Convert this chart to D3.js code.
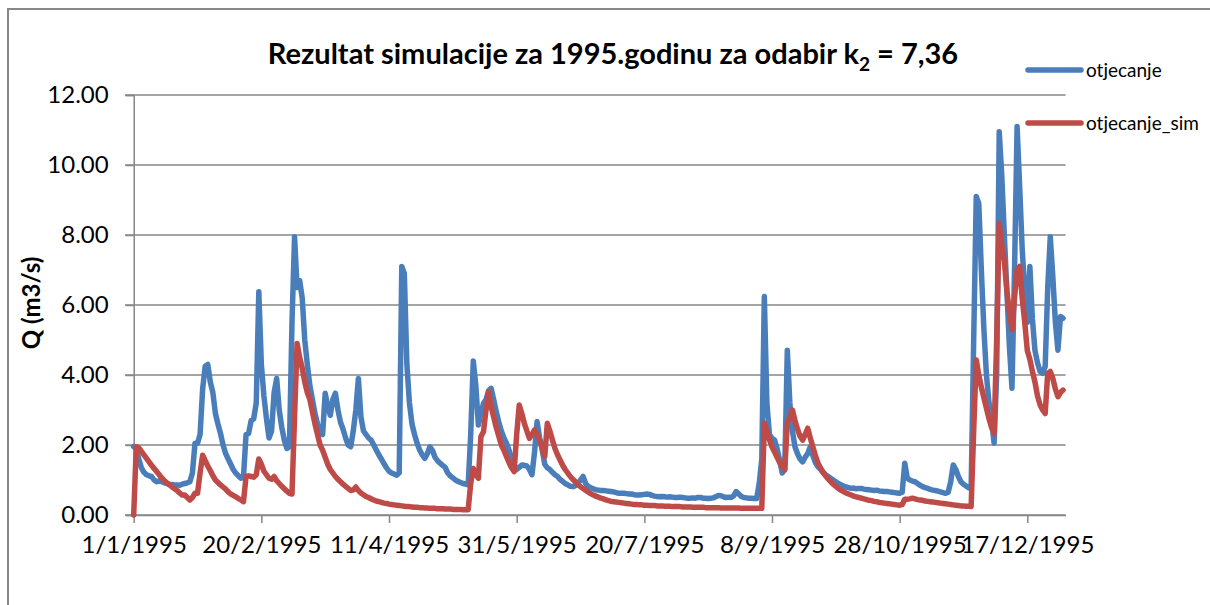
<!DOCTYPE html>
<html>
<head>
<meta charset="utf-8">
<script src="https://cdn.jsdelivr.net/npm/d3@7"></script>
<style>
  body { margin: 0; background: #fff; }
  svg { font-family: Lato, 'Open Sans', sans-serif; }
</style>
</head>
<body>
<svg id="chart" width="1210" height="605"></svg>
<script>
// daily values for 1995, index = day of year (0 = 1/1/1995)
const otjecanje = [
  1.95, 1.9, 1.6, 1.35, 1.22, 1.15, 1.12, 1.1, 1.0, 0.95,
  0.98, 0.95, 0.92, 0.9, 0.88, 0.87, 0.86, 0.86, 0.85, 0.88,
  0.9, 0.92, 0.95, 1.2, 2.05, 2.05, 2.3, 3.6, 4.25, 4.3,
  3.8, 3.5, 2.9, 2.6, 2.33, 2.0, 1.76, 1.6, 1.45, 1.3,
  1.19, 1.12, 1.05, 1.08, 2.3, 2.33, 2.7, 2.75, 3.2, 6.38,
  4.3, 3.4, 2.75, 2.2, 2.4, 3.5, 3.9, 3.0, 2.5, 2.14,
  1.9, 1.95, 5.5, 7.95, 6.5, 6.7, 6.2, 5.0, 4.3, 3.7,
  3.3, 2.9, 2.6, 2.35, 2.3, 3.48, 3.1, 2.85, 3.3, 3.48,
  3.0, 2.65, 2.45, 2.2, 2.0, 1.95, 2.4, 3.0, 3.9, 2.8,
  2.4, 2.3, 2.2, 2.14, 2.0, 1.86, 1.72, 1.6, 1.47, 1.35,
  1.25, 1.2, 1.17, 1.14, 1.2, 7.1, 6.9, 4.3, 3.2, 2.6,
  2.3, 2.05, 1.86, 1.72, 1.62, 1.75, 1.95, 1.85, 1.65, 1.55,
  1.48, 1.42, 1.36, 1.2, 1.12, 1.06, 1.0, 0.96, 0.93, 0.9,
  0.88, 0.86, 2.3, 4.4, 3.7, 2.57, 2.9, 3.19, 3.3, 3.55,
  3.62, 3.3, 2.95, 2.65, 2.4, 2.2, 2.05, 1.85, 1.62, 1.42,
  1.3, 1.36, 1.43, 1.42, 1.4, 1.3, 1.15, 1.8, 2.67, 2.2,
  1.86, 1.45, 1.35, 1.3, 1.22, 1.15, 1.1, 1.02, 0.96, 0.9,
  0.86, 0.82, 0.81, 0.84, 0.9, 1.0, 1.1, 0.9, 0.82, 0.78,
  0.75, 0.72, 0.71, 0.7, 0.7, 0.69, 0.68, 0.67, 0.66, 0.64,
  0.62, 0.62, 0.62, 0.61, 0.6, 0.6, 0.58, 0.57, 0.57, 0.58,
  0.59, 0.6, 0.59, 0.56, 0.54, 0.53, 0.52, 0.53, 0.52, 0.51,
  0.52, 0.51, 0.5, 0.5, 0.51, 0.5, 0.49, 0.48, 0.48, 0.49,
  0.48, 0.5, 0.5, 0.48, 0.48, 0.47, 0.48, 0.49, 0.52, 0.56,
  0.55, 0.52, 0.5, 0.51, 0.5, 0.55, 0.67, 0.6, 0.53, 0.5,
  0.49, 0.48, 0.48, 0.47, 0.47, 0.9, 1.6, 6.24, 3.2, 2.3,
  2.19, 2.14, 1.9, 1.57, 1.2, 1.3, 4.71, 3.2, 2.4, 1.95,
  1.75, 1.6, 1.52, 1.65, 1.76, 1.95, 1.7, 1.5, 1.38, 1.3,
  1.22, 1.15, 1.1, 1.05, 1.0, 0.95, 0.9, 0.86, 0.83, 0.8,
  0.78, 0.76, 0.77, 0.75, 0.76, 0.76, 0.74, 0.73, 0.72, 0.71,
  0.7, 0.71, 0.69, 0.68, 0.67, 0.67, 0.66, 0.65, 0.64, 0.63,
  0.62, 0.65, 1.48, 1.05, 1.0, 0.97, 0.95, 0.9, 0.85, 0.81,
  0.78, 0.76, 0.73, 0.71, 0.7, 0.68, 0.66, 0.64, 0.62, 0.65,
  0.95, 1.43, 1.3, 1.1, 0.95, 0.88, 0.83, 0.78, 0.75, 5.0,
  9.1, 8.9, 7.0, 5.3, 4.0, 3.2, 2.7, 2.05, 4.0, 10.95,
  9.7, 8.0, 6.4, 4.8, 3.62, 7.0, 11.1, 9.4, 7.6, 6.4,
  5.5, 7.1, 5.6, 4.7, 4.35, 4.1, 4.05, 4.24, 6.5, 7.95,
  6.8, 5.5, 4.71, 5.67, 5.62
]

const otjecanjeSim = [
  0, 1.95, 1.92, 1.82, 1.72, 1.62, 1.52, 1.42, 1.33, 1.24,
  1.15, 1.06, 0.98, 0.92, 0.86, 0.8, 0.75, 0.7, 0.63, 0.57,
  0.57, 0.5, 0.43, 0.5, 0.62, 0.62, 1.2, 1.71, 1.55, 1.4,
  1.27, 1.12, 1.0, 0.93, 0.86, 0.8, 0.74, 0.66, 0.6, 0.56,
  0.52, 0.47, 0.43, 0.38, 1.1, 1.12, 1.1, 1.08, 1.15, 1.6,
  1.45, 1.25, 1.15, 1.05, 1.02, 1.1, 0.98, 0.9, 0.82, 0.75,
  0.68, 0.62, 0.6, 2.8, 4.9, 4.5, 4.2, 3.8, 3.5, 3.3,
  2.95, 2.6, 2.3, 2.0, 1.85, 1.65, 1.45, 1.3, 1.2, 1.1,
  1.02, 0.95, 0.88, 0.82, 0.76, 0.7, 0.72, 0.8, 0.7, 0.63,
  0.58, 0.53, 0.5, 0.46, 0.43, 0.4, 0.38, 0.36, 0.34, 0.33,
  0.31, 0.3, 0.29, 0.28, 0.27, 0.26, 0.25, 0.24, 0.24, 0.23,
  0.22, 0.22, 0.21, 0.21, 0.2, 0.2, 0.19, 0.19, 0.19, 0.18,
  0.18, 0.18, 0.17, 0.17, 0.17, 0.16, 0.16, 0.16, 0.16, 0.15,
  0.15, 0.15, 0.9, 1.33, 1.15, 1.05, 2.24, 2.38, 3.0, 3.52,
  3.1, 2.8, 2.5, 2.25, 2.0, 1.85, 1.67, 1.5, 1.35, 1.24,
  2.3, 3.14, 2.9, 2.62, 2.4, 2.19, 2.3, 2.43, 2.3, 2.14,
  1.9, 1.67, 2.62, 2.4, 2.14, 1.9, 1.72, 1.57, 1.42, 1.3,
  1.2, 1.1, 1.02, 0.95, 0.87, 0.81, 0.76, 0.71, 0.66, 0.61,
  0.57, 0.54, 0.51, 0.48, 0.46, 0.43, 0.41, 0.39, 0.38, 0.37,
  0.36, 0.35, 0.34, 0.33, 0.32, 0.31, 0.3, 0.3, 0.29, 0.29,
  0.28, 0.28, 0.27, 0.27, 0.27, 0.26, 0.26, 0.26, 0.25, 0.25,
  0.25, 0.24, 0.24, 0.24, 0.24, 0.23, 0.23, 0.23, 0.23, 0.22,
  0.22, 0.22, 0.22, 0.22, 0.21, 0.21, 0.21, 0.21, 0.21, 0.21,
  0.2, 0.2, 0.2, 0.2, 0.2, 0.2, 0.2, 0.2, 0.19, 0.19,
  0.19, 0.19, 0.19, 0.19, 0.19, 0.19, 0.19, 2.62, 2.4, 2.15,
  1.95, 1.8, 1.65, 1.5, 1.38, 1.29, 2.62, 2.8, 3.0, 2.7,
  2.45, 2.25, 2.14, 2.3, 2.48, 2.2, 1.95, 1.7, 1.48, 1.35,
  1.22, 1.12, 1.03, 0.95, 0.88, 0.82, 0.76, 0.71, 0.67, 0.63,
  0.6, 0.57, 0.54, 0.52, 0.5, 0.48, 0.46, 0.44, 0.42, 0.41,
  0.39, 0.38, 0.36, 0.35, 0.34, 0.33, 0.32, 0.31, 0.3, 0.29,
  0.28, 0.3, 0.45, 0.45, 0.46, 0.48, 0.46, 0.44, 0.43, 0.42,
  0.4, 0.39, 0.38, 0.37, 0.36, 0.35, 0.34, 0.33, 0.32, 0.31,
  0.3, 0.29, 0.28, 0.27, 0.26, 0.26, 0.25, 0.25, 0.24, 2.4,
  4.43, 4.0, 3.65, 3.35, 3.05, 2.75, 2.5, 2.33, 5.0, 8.33,
  7.7, 7.25, 6.4, 5.8, 5.29, 6.2, 7.0, 7.1, 6.2, 5.5,
  4.7, 4.45, 4.1, 3.8, 3.4, 3.15, 3.0, 2.9, 4.05, 4.1,
  3.9, 3.6, 3.38, 3.5, 3.57
]

const tickDays = [0, 50, 100, 150, 200, 250, 300, 350]
const tickLabels = ['1/1/1995', '20/2/1995', '11/4/1995', '31/5/1995', '20/7/1995', '8/9/1995', '28/10/1995', '17/12/1995']
const yTicks = [0, 2, 4, 6, 8, 10, 12]

const seriesNames = ['otjecanje', 'otjecanje_sim']
const seriesColors = ['#4a7ebb', '#be4b48']

const svg = d3.select('#chart')
const gridColor = '#878787'

// outer chart border (continues past the right/bottom edge)
svg.append('rect')
  .attr('x', 8).attr('y', 9)
  .attr('width', 1230).attr('height', 620)
  .attr('fill', 'none')
  .attr('stroke', gridColor)
  .attr('stroke-width', 2)

const x = d3.scaleLinear().domain([0, 365]).range([133.7, 1065.6])
const y = d3.scaleLinear().domain([0, 12]).range([515, 95])

// horizontal gridlines incl. small tick on the left
svg.append('g')
  .selectAll('line')
  .data(yTicks)
  .join('line')
  .attr('x1', 125)
  .attr('x2', x.range()[1])
  .attr('y1', (d) => y(d))
  .attr('y2', (d) => y(d))
  .attr('stroke', gridColor)
  .attr('stroke-width', 1.5)

// y axis
const yAxis = svg.append('g')
  .attr('transform', `translate(${x(0)},0)`)
  .call(d3.axisLeft(y).tickValues(yTicks).tickFormat(d3.format('.2f')).tickSize(8).tickPadding(17))
yAxis.select('.domain').attr('stroke', gridColor).attr('stroke-width', 1.5)
yAxis.selectAll('.tick line').attr('stroke', gridColor).attr('stroke-width', 1.5)
yAxis.selectAll('text')
  .attr('font-family', 'Lato, sans-serif')
  .attr('font-size', 24)
  .attr('fill', '#000')

// x axis
const xAxis = svg.append('g')
  .attr('transform', `translate(0,${y(0)})`)
  .call(d3.axisBottom(x).tickValues(tickDays).tickFormat((d, i) => tickLabels[i]).tickSize(8).tickSizeOuter(0).tickPadding(13))
xAxis.select('.domain').attr('stroke', gridColor).attr('stroke-width', 1.5)
xAxis.selectAll('.tick line').attr('stroke', gridColor).attr('stroke-width', 1.5)
xAxis.selectAll('text')
  .attr('font-family', 'Lato, sans-serif')
  .attr('font-size', 24)
  .attr('fill', '#000')

// series lines
const line = d3.line()
  .x((d, i) => x(i))
  .y((d) => y(d))

;[otjecanje, otjecanjeSim].forEach((values, k) => {
  svg.append('path')
    .datum(values)
    .attr('fill', 'none')
    .attr('stroke', seriesColors[k])
    .attr('stroke-width', 5.5)
    .attr('stroke-linejoin', 'round')
    .attr('stroke-linecap', 'round')
    .attr('d', line)
})

// title
const title = svg.append('text')
  .attr('x', 613)
  .attr('y', 64)
  .attr('text-anchor', 'middle')
  .attr('font-family', 'Lato, sans-serif')
  .attr('font-weight', 'bold')
  .attr('font-size', 29)
  .attr('fill', '#000')
title.append('tspan').text('Rezultat simulacije za 1995.godinu za odabir k')
title.append('tspan').attr('font-size', 19).attr('dy', 7).text('2')
title.append('tspan').attr('dy', -7).text(' = 7,36')

// y axis title
svg.append('text')
  .attr('transform', 'translate(40,303) rotate(-90)')
  .attr('text-anchor', 'middle')
  .attr('font-family', 'Lato, sans-serif')
  .attr('font-weight', 'bold')
  .attr('font-size', 24)
  .attr('fill', '#000')
  .text('Q (m3/s)')

// legend
const legend = svg.append('g')
const legendY = [70, 123]
seriesNames.forEach((name, k) => {
  legend.append('line')
    .attr('x1', 1028).attr('x2', 1081)
    .attr('y1', legendY[k]).attr('y2', legendY[k])
    .attr('stroke', seriesColors[k])
    .attr('stroke-width', 5.5)
    .attr('stroke-linecap', 'round')
  legend.append('text')
    .attr('x', 1086)
    .attr('y', legendY[k])
    .attr('dy', '0.35em')
    .attr('font-family', 'Lato, sans-serif')
    .attr('font-size', 19)
    .attr('fill', '#000')
    .text(name)
})
</script>
</body>
</html>
